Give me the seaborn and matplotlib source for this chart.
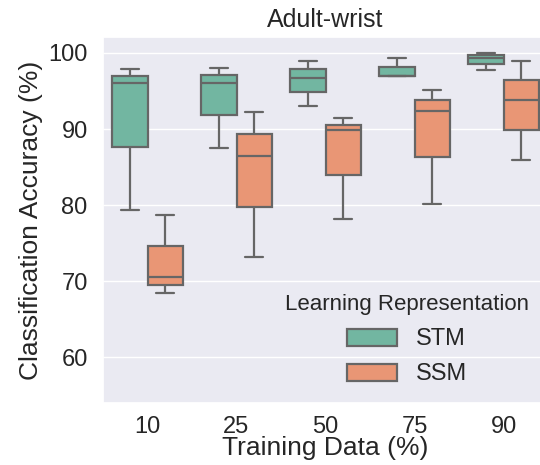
import numpy as np
import pandas as pd
import matplotlib
matplotlib.use("Agg")
import matplotlib.pyplot as plt
import seaborn as sns

# five-number summaries (min, Q1, median, Q3, max)
train_sizes = ["10", "25", "50", "75", "90"]
representations = ["STM", "SSM"]

stm_values = [
    [79.4, 87.7, 96.1, 97.0, 97.95],
    [87.5, 91.8, 96.1, 97.1, 98.0],
    [93.0, 94.9, 96.7, 97.9, 99.0],
    [97.0, 97.0, 97.0, 98.2, 99.35],
    [97.8, 98.6, 99.3, 99.7, 100.0],
]
ssm_values = [
    [68.5, 69.5, 70.6, 74.6, 78.7],
    [73.2, 79.8, 86.4, 89.3, 92.3],
    [78.2, 84.0, 89.9, 90.6, 91.4],
    [80.2, 86.3, 92.4, 93.8, 95.1],
    [86.0, 89.9, 93.8, 96.4, 99.0],
]

rows = []
for rep, series in zip(representations, [stm_values, ssm_values]):
    for size, vals in zip(train_sizes, series):
        for v in vals:
            rows.append({"Training Data (%)": size,
                         "Learning Representation": rep,
                         "Accuracy": v})
df = pd.DataFrame(rows)

sns.set_theme(style="darkgrid")
plt.rcParams['font.family'] = ['Liberation Sans', 'DejaVu Sans']

fig = plt.figure(figsize=(5.4, 4.65), dpi=100)
ax = fig.add_axes([103 / 540, 1 - 403 / 465, 445 / 540, 366 / 465])

sns.boxplot(data=df, x="Training Data (%)", y="Accuracy",
            hue="Learning Representation", order=train_sizes,
            hue_order=representations, palette="Set2",
            linecolor="#666666", linewidth=1.6, ax=ax)

ax.set_xlim(-0.5, 4.5)
ax.set_ylim(54, 102.1)
ax.set_yticks([60, 70, 80, 90, 100])
ax.tick_params(axis="both", labelsize=17, colors="#262626")
ax.tick_params(axis="x", pad=3)
ax.tick_params(axis="y", pad=5)
ax.set_xlabel("Training Data (%)", fontsize=19, labelpad=-1)
ax.set_ylabel("Classification Accuracy (%)", fontsize=19, labelpad=4)
ax.set_title("Adult-wrist", fontsize=18, pad=7)

leg = ax.legend(title="Learning Representation", loc="lower right",
                bbox_to_anchor=(1.005, -0.01), fontsize=17,
                title_fontsize=16, frameon=False,
                handlelength=2.1, handleheight=0.72, labelspacing=0.55)

fig.savefig("out.png", dpi=100)
